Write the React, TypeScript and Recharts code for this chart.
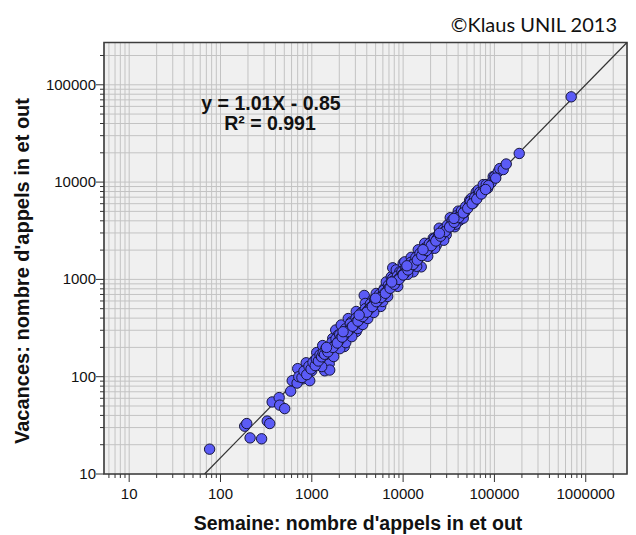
import React from 'react';
import {
  ScatterChart,
  Scatter,
  XAxis,
  YAxis,
  CartesianGrid,
  ReferenceLine,
  ReferenceArea,
} from 'recharts';

// Calls per subscriber: weekday period (x) versus holiday period (y)
const semaineCalls = [
  76, 184, 194, 211, 282, 325, 346, 368, 439, 445, 505, 587, 610, 756, 795, 868, 949, 701,
  1076, 1133, 1175, 1316, 1384, 1474, 1551, 1570, 1695, 1828, 1946, 2099, 2265, 2506, 2704,
  2704, 3066, 3066, 3479, 3750, 3846, 4477, 4646, 5074, 5338, 5684, 6215, 6536, 7413, 7696,
  7696, 8404, 9530, 10020, 10420, 9180, 11810, 12270, 12900, 14640, 15200, 15790, 17250,
  19560, 21360, 23060, 24860, 26140, 29640, 32810, 32810, 36760, 40150, 41720, 45530, 49110,
  53600, 58580, 63170, 66450, 75420, 81300, 92200, 97000, 100700, 110100, 114400, 124900,
  134600, 186900, 693000,
  998, 1050, 1222, 1284, 1419, 1611, 1738, 1875, 2023, 2183, 2355, 2541, 2742, 2951, 3184,
  3350, 3614, 3899, 4102, 4315, 4768, 5012, 5546, 5984, 6442, 6776, 7129, 8091, 8730, 9640,
  10660, 11220, 12420, 13400, 14090, 16000, 17690, 18600, 20570, 22200, 23940, 26480, 27860,
  30780, 34060, 37680, 42740, 47290, 50960, 56370, 69020, 84400, 103300,
  690, 720, 780, 820, 880, 930, 980, 1030, 1090, 1120, 1180, 1230, 1280, 1330, 1380, 1430,
  1560, 1620, 1660, 1770, 1840, 1950, 2020, 2080, 2250, 2330, 2380, 2550, 2640, 2700, 2920,
  3050, 3120, 3330, 3450, 3520, 3720, 3860, 3950, 4200, 4380, 4450, 4700, 4880, 4950, 5300,
  5500, 5600, 5900, 6100, 6250, 6700, 6900, 7050, 7450, 7750, 7900, 8300, 8650, 8800, 9300,
  9700, 9850, 10300, 10700, 10900, 11800, 12200, 12500, 13200, 13800, 14700, 15300, 16600,
  17400, 18600, 19400, 21000, 22000, 23500, 24500, 26500, 27500, 29500, 30500, 33500, 34500,
  37500, 38500, 42500, 43500, 47500, 48500, 53500, 54500, 59500, 61000, 67500, 69000, 75500,
  86000,
  1500, 1700, 1900, 2150, 2450, 2800, 3200, 3600, 4000, 4600, 5100, 5700, 6400, 7200, 8000,
  9000, 10000, 11300, 12800, 14300, 16000, 18000, 20300, 22800, 25700, 28800, 32300, 36200,
  40600, 45500, 51000, 57000, 64000, 72000, 80000,
  1450, 2200, 3300, 5000, 7500, 11000, 16500, 25000, 36000,
];
const vacancesCalls = [
  18, 31, 33, 23.5, 23, 35, 33, 55, 61, 51, 47, 71, 91, 115, 95, 139, 91, 121,
  148, 177, 154, 209, 115, 139, 136, 117, 247, 302, 268, 340, 204, 396, 313,
  365, 468, 291, 396, 684, 566, 468, 615, 717, 546, 527, 807, 942, 1061, 1315,
  1023, 1253, 1153, 1462, 1515, 1195, 1378, 1686, 1195, 2015, 1790, 1345, 2350,
  2015, 2648, 2243, 3358, 2648, 2877, 4306, 3650, 3475, 5027, 4058, 4256, 5395,
  6523, 6078, 7884, 8272, 9423, 9423, 9881, 11400, 11400, 12830, 13770, 13450,
  15340, 19690, 75200,
  115, 136, 146, 127, 169, 185, 161, 219, 194, 247, 224, 291, 258, 344, 313,
  378, 344, 436, 396, 502, 457, 580, 637, 593, 771, 668, 847, 931, 847, 1074,
  1268, 1127, 1429, 1571, 1363, 1811, 1991, 1726, 2296, 2089, 2648, 3054, 2524,
  3358, 3873, 3692, 4677, 4909, 5662, 6842, 7516, 8668, 10990,
  86, 100, 98, 114, 105, 128, 120, 140, 130, 152, 145, 168, 160, 175, 170, 195,
  190, 205, 225, 210, 245, 230, 270, 250, 265, 310, 285, 300, 350, 320, 340,
  400, 370, 390, 450, 420, 430, 500, 460, 490, 560, 520, 540, 620, 580, 610,
  700, 650, 670, 770, 720, 760, 870, 820, 850, 960, 900, 940, 1080, 1000, 1050,
  1200, 1120, 1150, 1310, 1240, 1320, 1500, 1410, 1480, 1680, 1640, 1850, 1850,
  2100, 2050, 2330, 2320, 2620, 2600, 2900, 2900, 3250, 3200, 3600, 3650, 4050,
  4050, 4500, 4600, 5050, 5100, 5600, 5800, 6300, 6400, 6950, 7300, 7850, 8100,
  9200,
  180, 200, 222, 255, 290, 330, 372, 415, 460, 525, 590, 650, 720, 810, 890,
  1000, 1110, 1250, 1420, 1580, 1760, 1980, 2220, 2480, 2780, 3100, 3460, 3860,
  4320, 4820, 5380, 6000, 6700, 7550, 8400,
  200, 290, 430, 640, 940, 1380, 2020, 2980, 4230,
];

// Fitted line end points (weekday, holiday)
const fitSemaine = [67, 2830000];
const fitVacances = [10, 272000];

const xMajorTicks = [10, 100, 1000, 10000, 100000, 1000000];
const yMajorTicks = [10, 100, 1000, 10000, 100000];
const equationLines = ['y = 1.01X - 0.85', 'R² = 0.991'];
const xTitle = "Semaine: nombre d'appels in et out";
const yTitle = "Vacances: nombre d'appels in et out";
const credit = '©Klaus UNIL 2013';

const X_DOMAIN: [number, number] = [5.3, 2830000];
const Y_DOMAIN: [number, number] = [10, 272000];

const points = semaineCalls.map((x, i) => ({ x, y: vacancesCalls[i] }));

// All 1..9 x 10^k values inside a log domain, used for ticks and grid lines
function logSteps(domain: [number, number]): number[] {
  const out: number[] = [];
  const lo = Math.floor(Math.log10(domain[0]));
  const hi = Math.ceil(Math.log10(domain[1]));
  for (let e = lo; e <= hi; e++) {
    for (let m = 1; m <= 9; m++) {
      const v = m * Math.pow(10, e);
      if (v >= domain[0] && v <= domain[1]) out.push(v);
    }
  }
  return out;
}

const xTicks = logSteps(X_DOMAIN);
const yTicks = logSteps(Y_DOMAIN);

const FONT = "'Liberation Sans', Arial, sans-serif";

const XTick = (props: any) => {
  const { x, y, payload } = props;
  const major = xMajorTicks.includes(payload.value);
  return (
    <g>
      <line x1={x} x2={x} y1={y} y2={y + (major ? 8 : 4)} stroke="#333" strokeWidth={1} />
      {major && (
        <text x={x} y={y + 25} textAnchor="middle" fontSize={15} fontFamily={FONT} fill="#111">
          {String(payload.value)}
        </text>
      )}
    </g>
  );
};

const YTick = (props: any) => {
  const { x, y, payload } = props;
  const major = yMajorTicks.includes(payload.value);
  return (
    <g>
      <line x1={x - (major ? 8 : 4)} x2={x} y1={y} y2={y} stroke="#333" strokeWidth={1} />
      {major && (
        <text x={x - 8} y={y + 5} textAnchor="end" fontSize={15} fontFamily={FONT} fill="#111">
          {String(payload.value)}
        </text>
      )}
    </g>
  );
};

const Dot = (props: any) => {
  const { cx, cy } = props;
  if (cx == null || cy == null) return null;
  return <circle cx={cx} cy={cy} r={5.2} fill="#5b5bf6" stroke="#16163a" strokeWidth={1} />;
};

export default function App() {
  return (
    <div style={{ position: 'absolute', left: 0, top: 0, width: 636, height: 535, background: '#fff' }}>
      <ScatterChart
        width={636}
        height={535}
        margin={{ top: 42.5, right: 9, bottom: 1, left: 0 }}
      >
        <CartesianGrid stroke="#c3c3c3" strokeWidth={1} fill="#f0f0f0" />
        <XAxis
          type="number"
          dataKey="x"
          scale="log"
          domain={X_DOMAIN}
          allowDataOverflow
          ticks={xTicks}
          interval={0}
          tick={<XTick />}
          tickLine={false}
          axisLine={false}
          tickSize={0}
          tickMargin={0}
          height={60}
        />
        <YAxis
          type="number"
          dataKey="y"
          scale="log"
          domain={Y_DOMAIN}
          allowDataOverflow
          ticks={yTicks}
          interval={0}
          tick={<YTick />}
          tickLine={false}
          axisLine={false}
          tickSize={0}
          tickMargin={0}
          width={104}
        />
        <Scatter data={points} shape={<Dot />} isAnimationActive={false} />
        <ReferenceLine
          segment={[
            { x: fitSemaine[0], y: fitVacances[0] },
            { x: fitSemaine[1], y: fitVacances[1] },
          ]}
          stroke="#333"
          strokeWidth={1.2}
        />
        <ReferenceArea
          x1={X_DOMAIN[0]}
          x2={X_DOMAIN[1]}
          y1={Y_DOMAIN[0]}
          y2={Y_DOMAIN[1]}
          fill="none"
          stroke="#3d3d3d"
          strokeWidth={1.6}
          ifOverflow="visible"
        />
      </ScatterChart>
      <svg
        width={636}
        height={535}
        style={{ position: 'absolute', left: 0, top: 0, pointerEvents: 'none' }}
      >
        <text x={617} y={32} textAnchor="end" fontSize={20} fontFamily="Lato, 'Open Sans', sans-serif" fill="#111">
          {credit}
        </text>
        <text x={271} y={110} textAnchor="middle" fontSize={19.5} fontWeight="bold" fontFamily={FONT} fill="#111">
          {equationLines[0]}
        </text>
        <text x={270} y={130} textAnchor="middle" fontSize={19.5} fontWeight="bold" fontFamily={FONT} fill="#111">
          {equationLines[1]}
        </text>
        <text x={358} y={530} textAnchor="middle" fontSize={19.5} fontWeight="bold" fontFamily={FONT} fill="#111">
          {xTitle}
        </text>
        <text
          x={0}
          y={0}
          transform="translate(29, 271) rotate(-90)"
          textAnchor="middle"
          fontSize={20}
          fontWeight="bold"
          fontFamily={FONT}
          fill="#111"
        >
          {yTitle}
        </text>
      </svg>
    </div>
  );
}
